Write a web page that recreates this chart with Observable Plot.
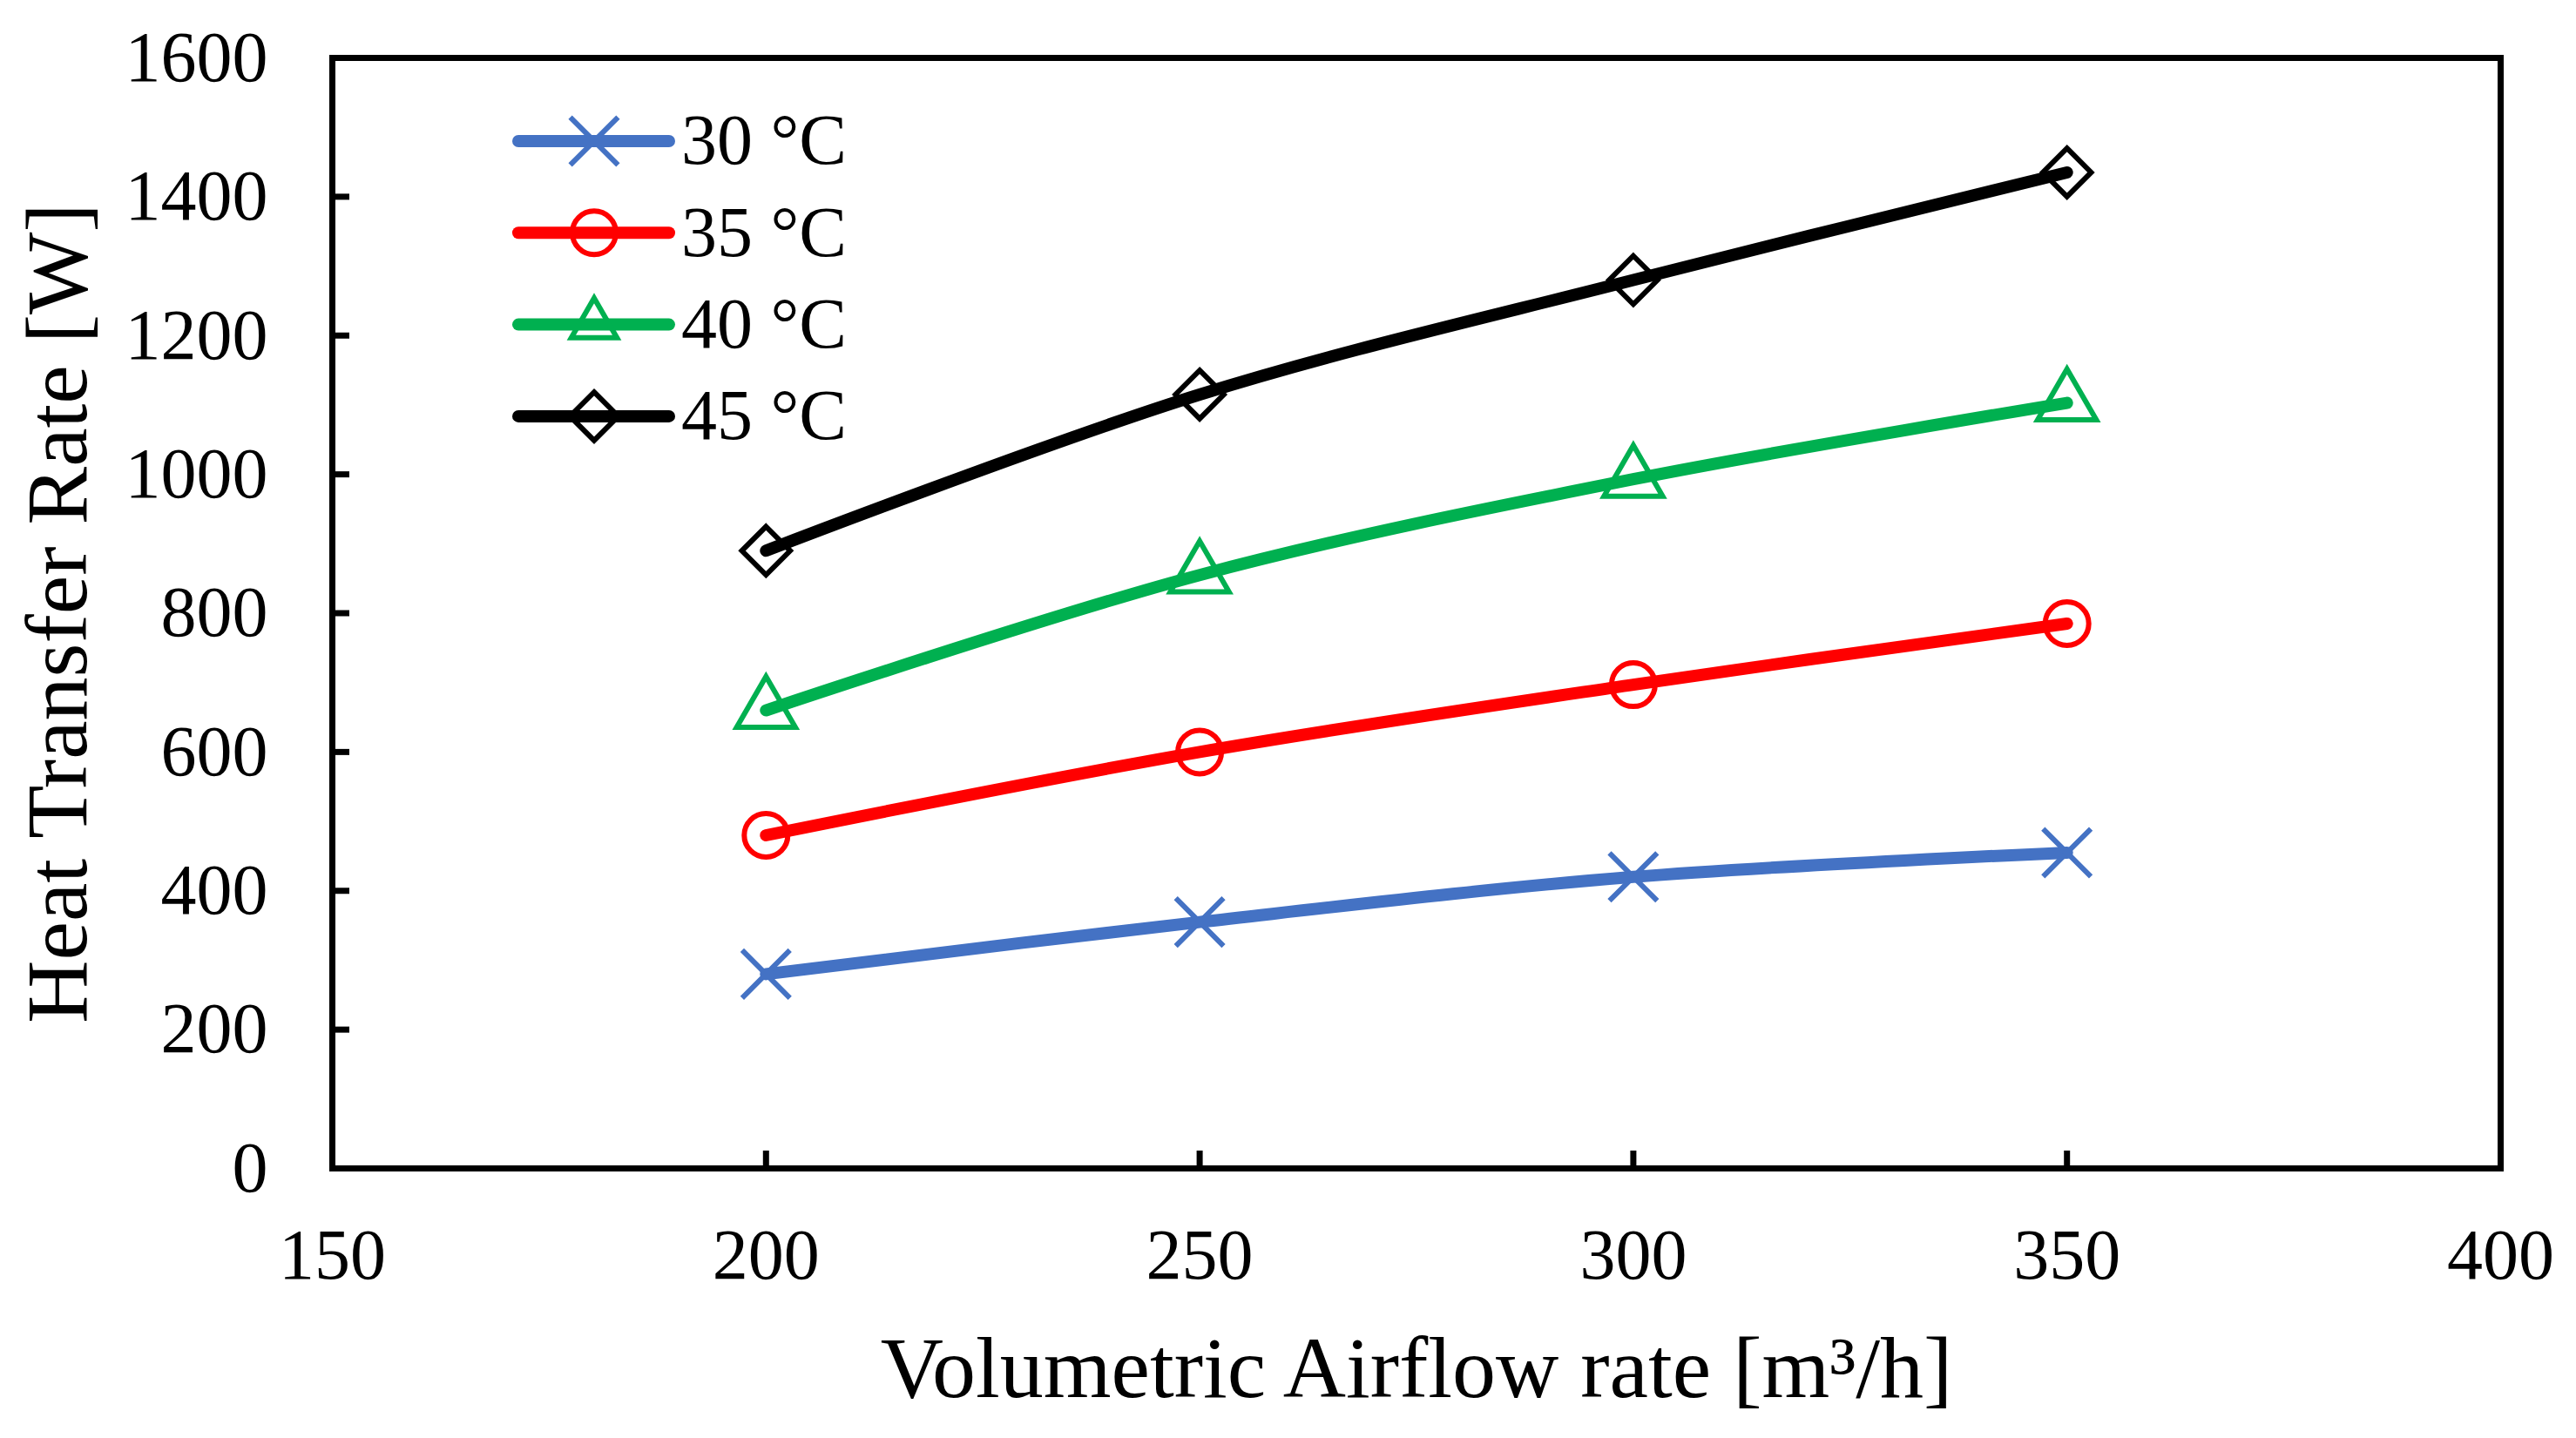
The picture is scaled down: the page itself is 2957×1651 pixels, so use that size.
<!DOCTYPE html>
<html><head><meta charset="utf-8">
<script src="https://cdn.jsdelivr.net/npm/d3@7"></script>
<script src="https://cdn.jsdelivr.net/npm/@observablehq/plot@0.6"></script>
<style>html,body{margin:0;padding:0;background:#fff;} #chart svg{display:block}</style>
</head><body><div id="chart"></div>
<script>
const airflow = [200, 250, 300, 350];
const seriesNames = ["30 °C", "35 °C", "40 °C", "45 °C"];
const heat30 = [280, 355, 420, 455];
const heat35 = [480, 600, 697, 785];
const heat40 = [660, 855, 993, 1103];
const heat45 = [890, 1115, 1280, 1435];
const seriesColors = ["#4472C4", "#FF0000", "#00B050", "#000000"];
const seriesSymbols = ["times", "circle", "triangle", "diamond2"];
const xTicks = [150, 200, 250, 300, 350, 400];
const yTicks = [0, 200, 400, 600, 800, 1000, 1200, 1400, 1600];
const xLabel = "Volumetric Airflow rate [m³/h]";
const yLabel = "Heat Transfer Rate [W]";

const seriesValues = [heat30, heat35, heat40, heat45];
const data = seriesNames.flatMap((s, i) => airflow.map((x, j) => ({series: s, x, y: seriesValues[i][j]})));
const fmt = d => String(d);

const W = 2957, H = 1651, ML = 381, MR = 87, MT = 66, MB = 310;
const plotW = W - ML - MR, plotH = H - MT - MB;
const TICK_LEN = 20;

const svg = Plot.plot({
  width: W,
  height: H,
  marginLeft: ML,
  marginRight: MR,
  marginTop: MT,
  marginBottom: MB,
  style: {fontFamily: "'Liberation Serif', 'Times New Roman', serif", fontSize: "82px", color: "#000", background: "#fff"},
  x: {domain: [150, 400]},
  y: {domain: [0, 1600]},
  color: {domain: seriesNames, range: seriesColors},
  symbol: {domain: seriesNames, range: seriesSymbols},
  marks: [
    Plot.axisY({ticks: yTicks, tickSize: 0, tickPadding: 74, tickFormat: fmt, label: null, fontSize: 82}),
    Plot.axisX({ticks: xTicks, tickSize: 0, tickPadding: 68, tickFormat: fmt, label: null, fontSize: 82}),
    Plot.tickY(yTicks, {y: d => d, insetRight: plotW - TICK_LEN, stroke: "#000", strokeWidth: 7}),
    Plot.tickX(xTicks, {x: d => d, insetTop: plotH - TICK_LEN, stroke: "#000", strokeWidth: 7}),
    Plot.frame({stroke: "#000", strokeWidth: 7}),
    Plot.line(data, {x: "x", y: "y", z: "series", stroke: "series", strokeWidth: 14, curve: "catmull-rom", strokeLinecap: "round", strokeLinejoin: "round"}),
    Plot.dot(data, {x: "x", y: "y", stroke: "series", symbol: "series", r: 25, strokeWidth: 6, fill: "none"}),
    Plot.text([yLabel], {text: d => d, frameAnchor: "left", dx: -283, rotate: -90, lineAnchor: "bottom", textAnchor: "middle", fontSize: 100}),
    Plot.text([xLabel], {text: d => d, frameAnchor: "bottom", dy: 262, lineAnchor: "bottom", textAnchor: "middle", fontSize: 100})
  ]
});

// legend inside plot area (top-left)
const symbolMap = {times: d3.symbolTimes, circle: d3.symbolCircle, triangle: d3.symbolTriangle2, diamond2: d3.symbolDiamond2};
const lg = d3.select(svg).append("g").attr("class", "legend").attr("text-anchor", "start");
seriesNames.forEach((name, i) => {
  const cy = 162 + i * 105.3;
  lg.append("line").attr("x1", 595).attr("x2", 768).attr("y1", cy).attr("y2", cy)
    .attr("stroke", seriesColors[i]).attr("stroke-width", 14).attr("stroke-linecap", "round");
  lg.append("path").attr("transform", `translate(682,${cy})`)
    .attr("d", d3.symbol(symbolMap[seriesSymbols[i]], Math.PI * 25 * 25)())
    .attr("fill", "none").attr("stroke", seriesColors[i]).attr("stroke-width", 6);
  lg.append("text").attr("x", 782).attr("y", cy).attr("dy", "0.32em")
    .attr("text-anchor", "start").attr("font-size", 82).attr("fill", "#000").text(name);
});

document.getElementById("chart").appendChild(svg);
</script>
</body></html>
